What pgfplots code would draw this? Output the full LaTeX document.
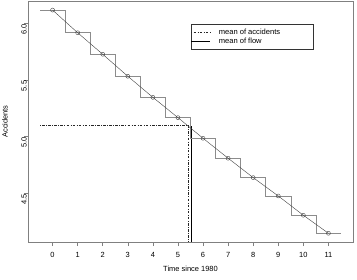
\documentclass[border=0pt]{standalone}
\usepackage{fontspec}
\setmainfont{Liberation Sans}
\usepackage{pgfplots}
\pgfplotsset{compat=1.18}
\definecolor{boxgray}{HTML}{808080}
\definecolor{stepgray}{HTML}{8C8C8C}
\begin{document}
\fontsize{7.5}{9}\selectfont
\begin{tikzpicture}
\path[use as bounding box] (-28bp,-38bp) rectangle (329bp,242bp);
\begin{axis}[
  scale only axis,
  width=325bp, height=241bp,
  xmin=-0.98, xmax=11.98,
  ymin=4.071, ymax=6.197,
  axis line style={boxgray, line width=0.5bp},
  xtick={0,1,...,11},
  ytick={4.5,5.0,5.5,6.0},
  tick align=outside,
  major tick length=4bp,
  tick style={boxgray, line width=0.5bp},
  xtick pos=bottom, ytick pos=left,
  /pgf/number format/assume math mode=true,
  yticklabel={\pgfmathprintnumber[fixed,fixed zerofill,precision=1]{\tick}},
  ticklabel style={font=\fontsize{7.5}{9}\selectfont},
  x tick label style={inner sep=0pt, anchor=center, yshift=-9bp},
  y tick label style={rotate=90, inner sep=0pt, anchor=center, xshift=-6bp},
  xlabel={Time since 1980},
  ylabel={Accidents},
  xlabel style={font=\fontsize{7.5}{9}\selectfont, at={(axis description cs:0.5,-0.112)}, anchor=center},
  ylabel style={font=\fontsize{7.5}{9}\selectfont, at={(axis description cs:-0.0708,0.5)}, anchor=center, rotate=0},
  clip=false,
  legend style={at={(rel axis cs:0.5015,0.9046)}, anchor=north west,
    draw=black!80, line width=0.4bp, font=\fontsize{7.6}{9}\selectfont,
    inner xsep=0bp, inner ysep=2.5bp, row sep=-1.3bp,
    column sep=0bp,
    nodes={inner xsep=0bp},
    legend cell align=left},
  legend image code/.code={\draw[#1] (9bp,0bp) -- (28bp,0bp);},
]
% legend entries
\addplot[black!85, line width=0.35bp, dash pattern=on 0.7bp off 1.4bp on 2.6bp off 1.4bp] coordinates {(-0.5,5.10) (5.42,5.10) (5.42,4.071)};
\addlegendentry{\hspace{8bp}\makebox[94bp][l]{mean of accidents}}
\addplot[black, line width=0.6bp] coordinates {(5.53,4.071) (5.53,5.09)};
\addlegendentry{\hspace{8bp}\makebox[94bp][l]{mean of flow}}
% step function
\addplot[stepgray, line width=0.5bp, forget plot] coordinates {
(-0.5,6.117) (0.5,6.117) (0.5,5.917) (1.5,5.917) (1.5,5.727) (2.5,5.727)
(2.5,5.533) (3.5,5.533) (3.5,5.347) (4.5,5.347) (4.5,5.168) (5.5,5.168)
(5.5,4.986) (6.5,4.986) (6.5,4.810) (7.5,4.810) (7.5,4.639) (8.5,4.639)
(8.5,4.477) (9.5,4.477) (9.5,4.307) (10.5,4.307) (10.5,4.148) (11.5,4.148)};
% points with line
\addplot[black!75, line width=0.4bp, mark=o, mark size=2bp, mark options={line width=0.4bp}, forget plot] coordinates {
(0,6.117) (1,5.917) (2,5.727) (3,5.533) (4,5.347) (5,5.168)
(6,4.986) (7,4.810) (8,4.639) (9,4.477) (10,4.307) (11,4.148)};
\end{axis}
\end{tikzpicture}
\end{document}
